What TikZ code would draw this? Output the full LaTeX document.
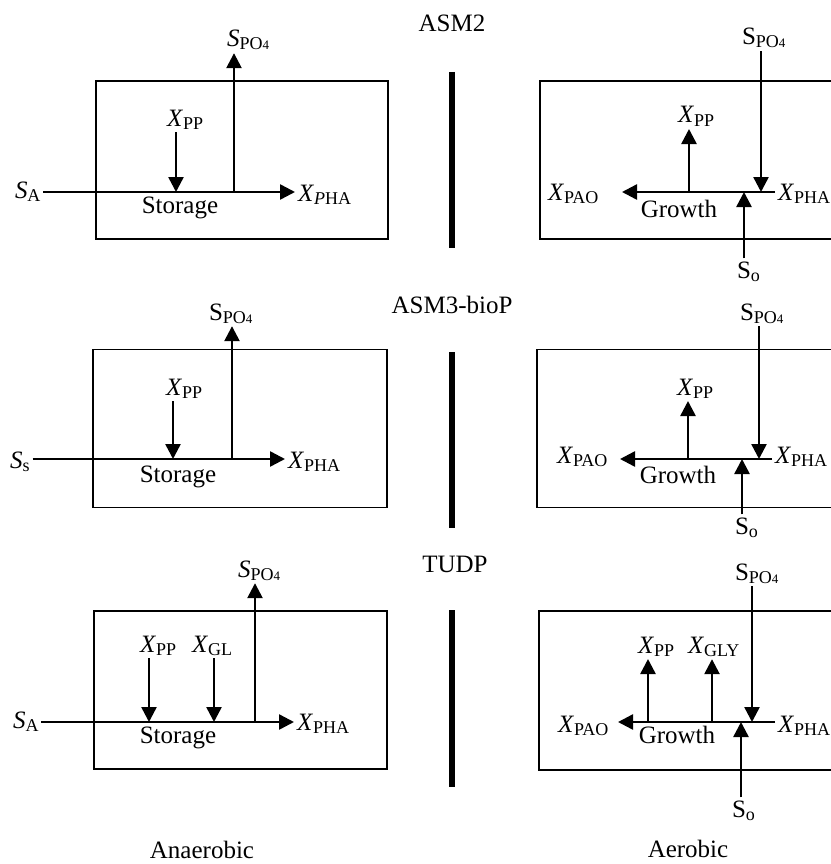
\documentclass[tikz,border=0pt]{standalone}
\usepackage{fontspec}
\setmainfont{Liberation Serif}
\usetikzlibrary{arrows.meta, positioning}

\newcommand{\lo}[1]{\raisebox{-3pt}{\fontsize{18}{18}\selectfont #1}}
\newcommand{\four}{{\fontsize{13}{13}\selectfont 4}}

\begin{document}
\begin{tikzpicture}[x=1pt, y=-1pt,
  every node/.style={font=\fontsize{25}{30}\selectfont, inner sep=0pt},
  lbl/.style={anchor=base west, outer sep=3pt, xshift=-3pt},
  txt/.style={anchor=base},
  box/.style={draw, line width=1.6pt, minimum height=158pt},
  flow/.style={-{Triangle[length=15pt, width=15pt]}, line width=2.5pt},
  bar/.style={line width=5.5pt}]
\useasboundingbox (0,0) rectangle (830,864);

% ASM2
\node[txt] (t1) at (452,32) {ASM2};
\draw[bar] (452,72) -- (452,248);
\node[box, minimum width=292pt] (an1) at (242,160) {};
\coordinate (an1m) at (176,192);
\coordinate (an1p) at (234,192);
\node[lbl] (an1in) at (15,198) {\textit{S}\lo{A}};
\node[lbl] (an1out) at (298,201) {\textit{X}\lo{\textit{P}HA}};
\node[lbl] (an1pp) at (167,126) {\textit{X}\lo{PP}};
\node[lbl] (an1po) at (227,47) {\textit{S}\lo{PO\four}};
\node[txt] (an1st) at (180,213) {Storage};
\draw[flow] (an1in.east |- an1m) -- (an1out.west |- an1m);
\draw[flow] (an1pp.south -| an1m) -- (an1m);
\draw[flow] (an1p) -- (an1po.south -| an1p);

\node[box, minimum width=300pt] (ae1) at (690,160) {};
\coordinate (ae1a) at (689,192);
\coordinate (ae1b) at (761,192);
\coordinate (ae1c) at (744,192);
\coordinate (ae1t) at (622,192);
\node[lbl] (ae1in) at (778,200) {\textit{X}\lo{PHA}};
\node[lbl] (ae1out) at (548,200) {\textit{X}\lo{PAO}};
\node[lbl] (ae1pp) at (678,123) {\textit{X}\lo{PP}};
\node[lbl] (ae1po) at (742,45) {S\lo{PO\four}};
\node[lbl] (ae1o) at (737,278) {S\lo{o}};
\node[txt] (ae1gr) at (679,217) {Growth};
\draw[flow] (ae1in.west |- ae1t) -- (ae1t);
\draw[flow] (ae1a) -- (ae1pp.south -| ae1a);
\draw[flow] (ae1po.south -| ae1b) -- (ae1b);
\draw[flow] (ae1o.north -| ae1c) -- (ae1c);

% ASM3-bioP
\node[txt] (t2) at (452,313) {ASM3-bioP};
\draw[bar] (452,352) -- (452,528);
\node[box, minimum width=294pt] (an2) at (240,428.5) {};
\coordinate (an2m) at (173,459);
\coordinate (an2p) at (232,459);
\node[lbl] (an2in) at (10,468) {\textit{S}\lo{s}};
\node[lbl] (an2out) at (288,468) {\textit{X}\lo{PHA}};
\node[lbl] (an2pp) at (166,395) {\textit{X}\lo{PP}};
\node[lbl] (an2po) at (209,320) {S\lo{PO\four}};
\node[txt] (an2st) at (178,482) {Storage};
\draw[flow] (an2in.east |- an2m) -- (an2out.west |- an2m);
\draw[flow] (an2pp.south -| an2m) -- (an2m);
\draw[flow] (an2p) -- (an2po.south -| an2p);

\node[box, minimum width=300pt] (ae2) at (687,428.5) {};
\coordinate (ae2a) at (688,459);
\coordinate (ae2b) at (759,459);
\coordinate (ae2c) at (742,459);
\coordinate (ae2t) at (620,459);
\node[lbl] (ae2in) at (775,463) {\textit{X}\lo{PHA}};
\node[lbl] (ae2out) at (557,463) {\textit{X}\lo{PAO}};
\node[lbl] (ae2pp) at (677,395) {\textit{X}\lo{PP}};
\node[lbl] (ae2po) at (740,320) {S\lo{PO\four}};
\node[lbl] (ae2o) at (735,534) {S\lo{o}};
\node[txt] (ae2gr) at (678,483) {Growth};
\draw[flow] (ae2in.west |- ae2t) -- (ae2t);
\draw[flow] (ae2a) -- (ae2pp.south -| ae2a);
\draw[flow] (ae2po.south -| ae2b) -- (ae2b);
\draw[flow] (ae2o.north -| ae2c) -- (ae2c);

% TUDP
\node[txt] (t3) at (455,572) {TUDP};
\draw[bar] (452,610) -- (452,787);
\node[box, minimum width=293pt] (an3) at (240.5,690) {};
\coordinate (an3m) at (149,722);
\coordinate (an3g) at (214,722);
\coordinate (an3p) at (255,722);
\node[lbl] (an3in) at (13,728) {\textit{S}\lo{A}};
\node[lbl] (an3out) at (297,730) {\textit{X}\lo{PHA}};
\node[lbl] (an3pp) at (140,652) {\textit{X}\lo{PP}};
\node[lbl] (an3gl) at (192,652) {\textit{X}\lo{GL}};
\node[lbl] (an3po) at (238,577) {\textit{S}\lo{PO\four}};
\node[txt] (an3st) at (178,743) {Storage};
\draw[flow] (an3in.east |- an3m) -- (an3out.west |- an3m);
\draw[flow] (an3pp.south -| an3m) -- (an3m);
\draw[flow] (an3gl.south -| an3g) -- (an3g);
\draw[flow] (an3p) -- (an3po.south -| an3p);

\node[box, minimum width=300pt, minimum height=159pt] (ae3) at (689,690.5) {};
\coordinate (ae3a) at (648,722);
\coordinate (ae3g) at (712,722);
\coordinate (ae3b) at (752,722);
\coordinate (ae3c) at (741,722);
\coordinate (ae3t) at (618,722);
\node[lbl] (ae3in) at (778,732) {\textit{X}\lo{PHA}};
\node[lbl] (ae3out) at (558,732) {\textit{X}\lo{PAO}};
\node[lbl] (ae3pp) at (638,653) {\textit{X}\lo{PP}};
\node[lbl] (ae3gl) at (688,653) {\textit{X}\lo{GLY}};
\node[lbl] (ae3po) at (735,580) {S\lo{PO\four}};
\node[lbl] (ae3o) at (732,817) {S\lo{o}};
\node[txt] (ae3gr) at (677,743) {Growth};
\draw[flow] (ae3in.west |- ae3t) -- (ae3t);
\draw[flow] (ae3a) -- (ae3pp.south -| ae3a);
\draw[flow] (ae3g) -- (ae3gl.south -| ae3g);
\draw[flow] (ae3po.south -| ae3b) -- (ae3b);
\draw[flow] (ae3o.north -| ae3c) -- (ae3c);

\node[txt] (anae) at (202,858) {Anaerobic};
\node[txt] (aer) at (688,857) {Aerobic};
\end{tikzpicture}
\end{document}
